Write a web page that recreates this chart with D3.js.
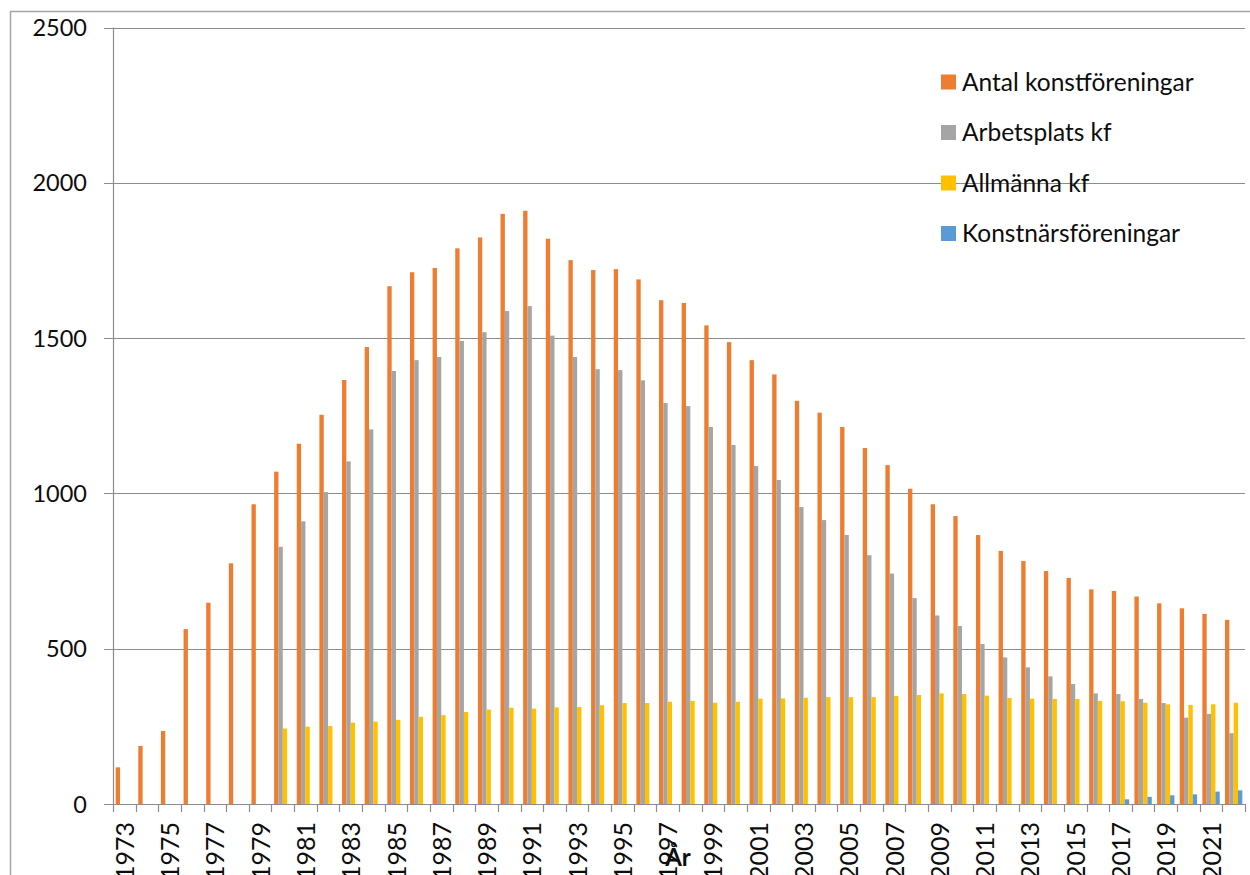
<!DOCTYPE html>
<html>
<head>
    <title>Konstföreningar per år</title>
    <!-- fetch the D3js library -->
    <script src="https://d3js.org/d3.v7.min.js"></script>
    <style>
        body {
            margin: 0;
            background: #ffffff;
            font-family: Lato, "Open Sans", sans-serif;
        }
        svg text {
            fill: #0d0d0d;
        }
    </style>
</head>
<body>
<div id="chart"></div>
<script>
    // Data
    const years = d3.range(1973, 2023).map(String);

    const antal = [118, 187, 235, 563, 648, 775, 965, 1070, 1160, 1253,
        1365, 1471, 1667, 1712, 1726, 1789, 1824, 1900, 1910, 1820,
        1751, 1719, 1722, 1689, 1622, 1613, 1541, 1487, 1429, 1383,
        1298, 1260, 1214, 1146, 1091, 1015, 965, 927, 866, 815,
        782, 750, 728, 691, 686, 668, 646, 630, 612, 593];

    const arbetsplats = [null, null, null, null, null, null, null, 828, 910, 1004,
        1103, 1206, 1394, 1429, 1439, 1491, 1519, 1587, 1603, 1508,
        1439, 1400, 1397, 1364, 1291, 1281, 1214, 1156, 1088, 1043,
        956, 914, 866, 801, 742, 663, 607, 573, 515, 472,
        440, 411, 386, 356, 354, 338, 325, 278, 290, 228];

    const allmanna = [null, null, null, null, null, null, null, 243, 249, 251,
        262, 265, 271, 281, 286, 296, 304, 310, 307, 311,
        312, 318, 325, 325, 329, 332, 326, 329, 339, 340,
        342, 344, 344, 344, 348, 351, 356, 354, 349, 341,
        339, 338, 338, 332, 331, 326, 321, 319, 321, 326];

    const konstnars = [null, null, null, null, null, null, null, null, null, null,
        null, null, null, null, null, null, null, null, null, null,
        null, null, null, null, null, null, null, null, null, null,
        null, null, null, null, null, null, null, null, null, null,
        null, null, null, null, 15, 23, 28, 31, 40, 44];

    const seriesNames = ["Antal konstföreningar", "Arbetsplats kf", "Allmänna kf", "Konstnärsföreningar"];
    const seriesColors = ["#ED7D31", "#A5A5A5", "#FFC000", "#5B9BD5"];
    const seriesValues = [antal, arbetsplats, allmanna, konstnars];

    const yTicks = [0, 500, 1000, 1500, 2000, 2500];

    // Dimensions
    const width = 1250;
    const height = 875;

    const svg = d3.select("#chart")
        .append("svg")
        .attr("width", width)
        .attr("height", height);

    // outer chart border (runs off the picture)
    svg.append("rect")
        .attr("x", 10.5)
        .attr("y", 11.5)
        .attr("width", 1300)
        .attr("height", 900)
        .attr("fill", "none")
        .attr("stroke", "#a6a6a6")
        .attr("stroke-width", 1.5);

    // Scales
    const x0 = d3.scaleBand()
        .domain(years)
        .range([113, 1245])
        .padding(0);

    const x1 = d3.scaleBand()
        .domain(seriesNames)
        .range([0, x0.bandwidth()])
        .paddingInner(0)
        .paddingOuter(0.61);

    const y = d3.scaleLinear()
        .domain([0, 2500])
        .range([804, 27.5]);

    // Gridlines
    svg.append("g")
        .selectAll("line")
        .data(yTicks)
        .enter()
        .append("line")
        .attr("x1", 104)
        .attr("x2", 1245)
        .attr("y1", d => Math.round(y(d)) + 0.5)
        .attr("y2", d => Math.round(y(d)) + 0.5)
        .attr("stroke", "#8c8c8c")
        .attr("stroke-width", 1.2);

    // Y axis line
    svg.append("line")
        .attr("x1", 113.5)
        .attr("x2", 113.5)
        .attr("y1", y(2500))
        .attr("y2", y(0))
        .attr("stroke", "#8c8c8c")
        .attr("stroke-width", 1.2);

    // Y labels
    svg.append("g")
        .selectAll("text")
        .data(yTicks)
        .enter()
        .append("text")
        .attr("x", 87)
        .attr("y", d => y(d) + 8.5)
        .attr("text-anchor", "end")
        .style("font-size", "23.5px")
        .text(d => d);

    // X tick marks at category boundaries
    const boundaries = years.map(d => x0(d)).concat([x0.range()[1]]);
    svg.append("g")
        .selectAll("line")
        .data(boundaries)
        .enter()
        .append("line")
        .attr("x1", d => Math.round(d) + 0.5)
        .attr("x2", d => Math.round(d) + 0.5)
        .attr("y1", y(0))
        .attr("y2", y(0) + 8)
        .attr("stroke", "#8c8c8c")
        .attr("stroke-width", 1.2);

    // Bars
    seriesNames.forEach(function (name, i) {
        svg.append("g")
            .attr("fill", seriesColors[i])
            .selectAll("rect")
            .data(years.map((yr, j) => ({ year: yr, value: seriesValues[i][j] }))
                .filter(d => d.value !== null))
            .enter()
            .append("rect")
            .attr("x", d => x0(d.year) + x1(name))
            .attr("width", x1.bandwidth())
            .attr("y", d => y(d.value))
            .attr("height", d => y(0) - y(d.value));
    });

    // X labels, every other year, rotated
    svg.append("g")
        .selectAll("text")
        .data(years.filter((d, i) => i % 2 === 0))
        .enter()
        .append("text")
        .attr("transform", d => "translate(" + (x0(d) + x0.bandwidth() / 2 + 9.5) + ",822) rotate(-90)")
        .attr("text-anchor", "end")
        .style("font-size", "25px")
        .text(d => d);

    // X axis title
    svg.append("text")
        .attr("x", 678)
        .attr("y", 866)
        .attr("text-anchor", "middle")
        .style("font-size", "24px")
        .style("font-weight", "bold")
        .text("År");

    // Legend
    const legend = svg.append("g")
        .selectAll("g")
        .data(seriesNames)
        .enter()
        .append("g")
        .attr("transform", (d, i) => "translate(941," + (82 + i * 50.5) + ")");

    legend.append("rect")
        .attr("x", 0)
        .attr("y", -7.5)
        .attr("width", 15)
        .attr("height", 15)
        .attr("fill", (d, i) => seriesColors[i]);

    legend.append("text")
        .attr("x", 21)
        .attr("y", 8.5)
        .style("font-size", "24.5px")
        .text(d => d);
</script>
</body>
</html>
